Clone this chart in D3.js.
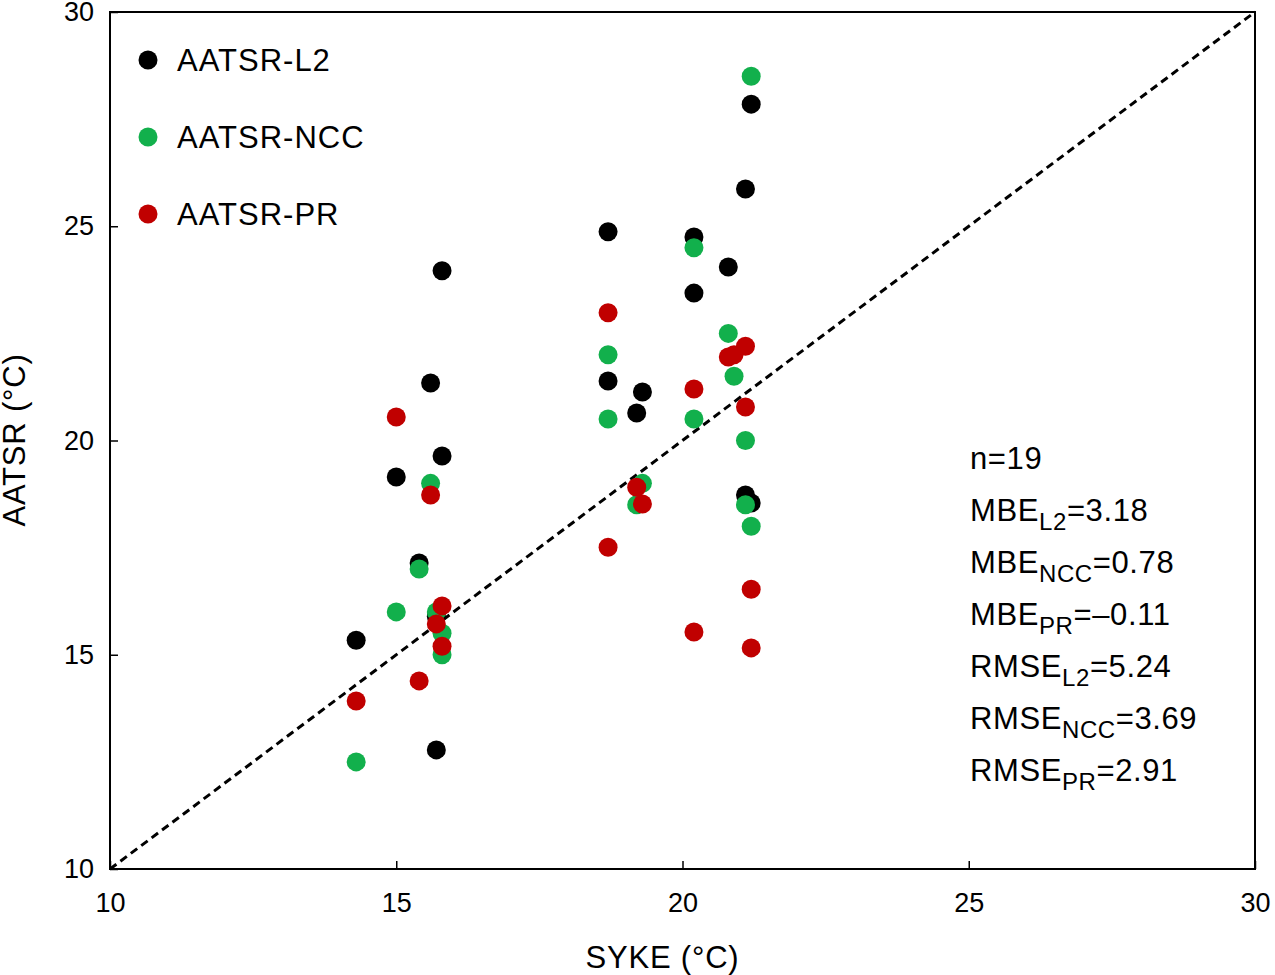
<!DOCTYPE html>
<html><head><meta charset="utf-8">
<script src="https://cdn.jsdelivr.net/npm/d3@7"></script>
<style>body{margin:0;background:#fff}text{font-family:"Liberation Sans",Arial,sans-serif}</style>
</head><body><svg id="c" width="1275" height="975"></svg>
<script>
const l2x = [14.3,15.0,15.4,15.6,15.7,15.8,15.8,18.7,18.7,19.2,19.3,20.2,20.2,20.8,21.1,21.1,21.2,21.2,15.7];
const l2  = [15.34,19.15,17.14,21.34,15.9,23.96,19.64,24.87,21.39,20.64,21.13,24.75,23.44,24.05,25.87,18.73,27.85,18.54,12.78];
const nccx = [14.3,15.0,15.4,15.6,15.7,15.8,15.8,18.7,18.7,19.2,19.3,20.2,20.2,20.8,20.9,21.1,21.1,21.2,21.2];
const ncc = [12.5,16.0,17.0,19.0,16.0,15.5,15.0,22.0,20.5,18.5,19.0,24.5,20.5,22.5,21.5,20.0,18.5,18.0,28.5];
const prx = [14.3,15.0,15.4,15.6,15.7,15.8,15.8,18.7,18.7,19.2,19.3,20.2,20.2,20.8,20.9,21.1,21.1,21.2,21.2];
const pr  = [13.92,20.55,14.39,18.73,15.72,16.14,15.2,22.98,17.51,18.91,18.52,21.2,15.53,21.95,22.0,22.2,20.78,16.53,15.16];
const series = [
  {name:"AATSR-L2", color:"#000000", pts:l2x.map((x,i)=>[x,l2[i]])},
  {name:"AATSR-NCC", color:"#12b04c", pts:nccx.map((x,i)=>[x,ncc[i]])},
  {name:"AATSR-PR", color:"#c00000", pts:prx.map((x,i)=>[x,pr[i]])}
];
const ticks = [10,15,20,25,30];
const stats = [["n=19","",""],["MBE","L2","=3.18"],["MBE","NCC","=0.78"],["MBE","PR","=\u20130.11"],
  ["RMSE","L2","=5.24"],["RMSE","NCC","=3.69"],["RMSE","PR","=2.91"]];

const svg = d3.select("#c");
const x = d3.scaleLinear().domain([10,30]).range([110,1255]);
const y = d3.scaleLinear().domain([10,30]).range([869,12]);

svg.append("g").attr("transform","translate(0,869)")
  .call(d3.axisBottom(x).tickValues(ticks).tickSize(-8).tickSizeOuter(0))
  .call(g=>g.selectAll("text").attr("font-size",27).attr("y",24).attr("dy","0.71em").attr("fill","#000"));
svg.append("g").attr("transform","translate(110,0)")
  .call(d3.axisLeft(y).tickValues(ticks).tickSize(-8).tickSizeOuter(0))
  .call(g=>g.selectAll("text").attr("font-size",27).attr("x",-16).attr("fill","#000"));
svg.append("rect").attr("x",110).attr("y",12).attr("width",1145).attr("height",857)
  .attr("fill","none").attr("stroke","#000").attr("stroke-width",2);
svg.selectAll(".domain").remove();
svg.selectAll(".tick line").attr("stroke-width",1.5);

svg.append("line").attr("x1",x(10)).attr("y1",y(10)).attr("x2",x(30)).attr("y2",y(30))
  .attr("stroke","#000").attr("stroke-width",3).attr("stroke-dasharray","8,5");

series.forEach((s,k)=>{
  svg.append("g").selectAll("circle").data(s.pts).join("circle")
    .attr("cx",d=>x(d[0])).attr("cy",d=>y(d[1])).attr("r",9.5).attr("fill",s.color);
  svg.append("circle").attr("cx",148).attr("cy",60+k*77).attr("r",9.5).attr("fill",s.color);
  svg.append("text").attr("x",177).attr("y",71+k*77).attr("font-size",31).attr("letter-spacing",1)
    .text(s.name);
});

stats.forEach((s,i)=>{
  const t = svg.append("text").attr("x",970).attr("y",469+i*52).attr("font-size",31).attr("letter-spacing",0.6);
  t.append("tspan").text(s[0]);
  if (s[1]) {
    t.append("tspan").attr("font-size",24).attr("dy",9).text(s[1]);
    t.append("tspan").attr("dy",-9).text(s[2]);
  }
});

svg.append("text").attr("x",x(20)-20).attr("y",968).attr("text-anchor","middle").attr("font-size",31).attr("letter-spacing",0.8).text("SYKE (\u00b0C)");
svg.append("text").attr("transform","translate(25,440) rotate(-90)").attr("text-anchor","middle").attr("font-size",31).attr("letter-spacing",0.8).text("AATSR (\u00b0C)");
</script></body></html>
